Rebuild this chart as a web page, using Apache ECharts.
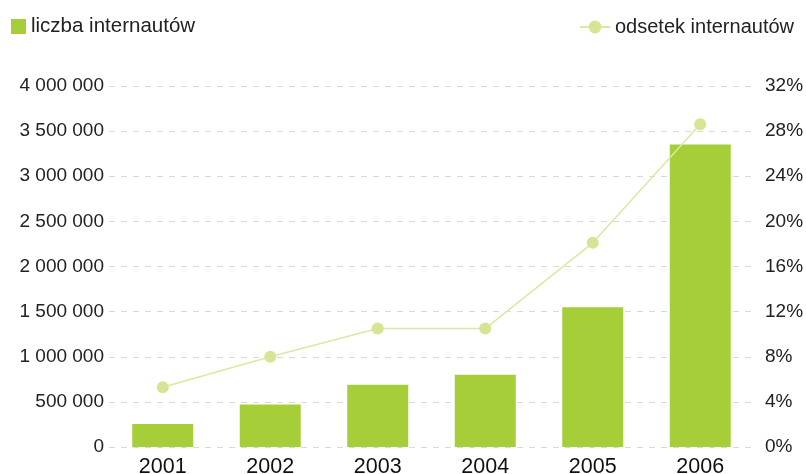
<!DOCTYPE html>
<html>
<head>
<meta charset="utf-8">
<script src="https://cdn.jsdelivr.net/npm/echarts@6/dist/echarts.min.js"></script>
<style>html,body{margin:0;padding:0;background:#fff}#c{width:806px;height:474px}</style>
</head>
<body>
<div id="c"></div>
<script>
const categories = ['2001', '2002', '2003', '2004', '2005', '2006'];
const internetUsers = [254000, 471000, 689000, 800000, 1549000, 3352000];
const internetShare = [5.3, 8.0, 10.5, 10.5, 18.1, 28.6];
const barName = 'liczba internautów';
const lineName = 'odsetek internautów';

function fmtSpace(v) {
  return String(v).replace(/\B(?=(\d{3})+(?!\d))/g, ' ');
}

const chart = echarts.init(document.getElementById('c'));
const font = 'Liberation Sans, Arial, sans-serif';
chart.setOption({
  animation: false,
  textStyle: { fontFamily: font },
  legend: [
    {
      data: [{ name: barName, icon: 'rect' }], left: 6, top: 11, itemWidth: 15, itemHeight: 15, itemGap: 9,
      textStyle: { fontSize: 20.5, color: '#222', fontFamily: font }
    },
    {
      data: [lineName], right: 7, top: 12, itemWidth: 30, itemHeight: 16,
      textStyle: { fontSize: 20, color: '#222', fontFamily: font }
    }
  ],
  grid: { left: 109, right: 52, top: 86, bottom: 27, outerBoundsMode: 'none', containLabel: false },
  xAxis: {
    type: 'category', data: categories,
    axisLine: { show: false }, axisTick: { show: false },
    axisLabel: { fontSize: 21.5, color: '#111', margin: 9, fontFamily: font }
  },
  yAxis: [
    {
      type: 'value', min: 0, max: 4000000, interval: 500000,
      axisLabel: { formatter: fmtSpace, fontSize: 19, color: '#222', margin: 5, fontFamily: font },
      axisLine: { show: false }, axisTick: { show: false },
      splitLine: { lineStyle: { color: '#d9d9d9', type: [6, 6], width: 1 } }
    },
    {
      type: 'value', min: 0, max: 32, interval: 4, position: 'right',
      axisLabel: { formatter: '{value}%', fontSize: 19, color: '#222', margin: 11, fontFamily: font },
      axisLine: { show: false }, axisTick: { show: false },
      splitLine: { show: false }
    }
  ],
  series: [
    {
      name: barName, type: 'bar', data: internetUsers, barWidth: 61,
      itemStyle: { color: '#a6ce39' }
    },
    {
      name: lineName, type: 'line', yAxisIndex: 1, data: internetShare,
      symbol: 'circle', symbolSize: 12,
      lineStyle: { color: '#d9e9a3', width: 1.5 },
      itemStyle: { color: '#d5e593' }
    }
  ]
});
</script>
</body>
</html>
